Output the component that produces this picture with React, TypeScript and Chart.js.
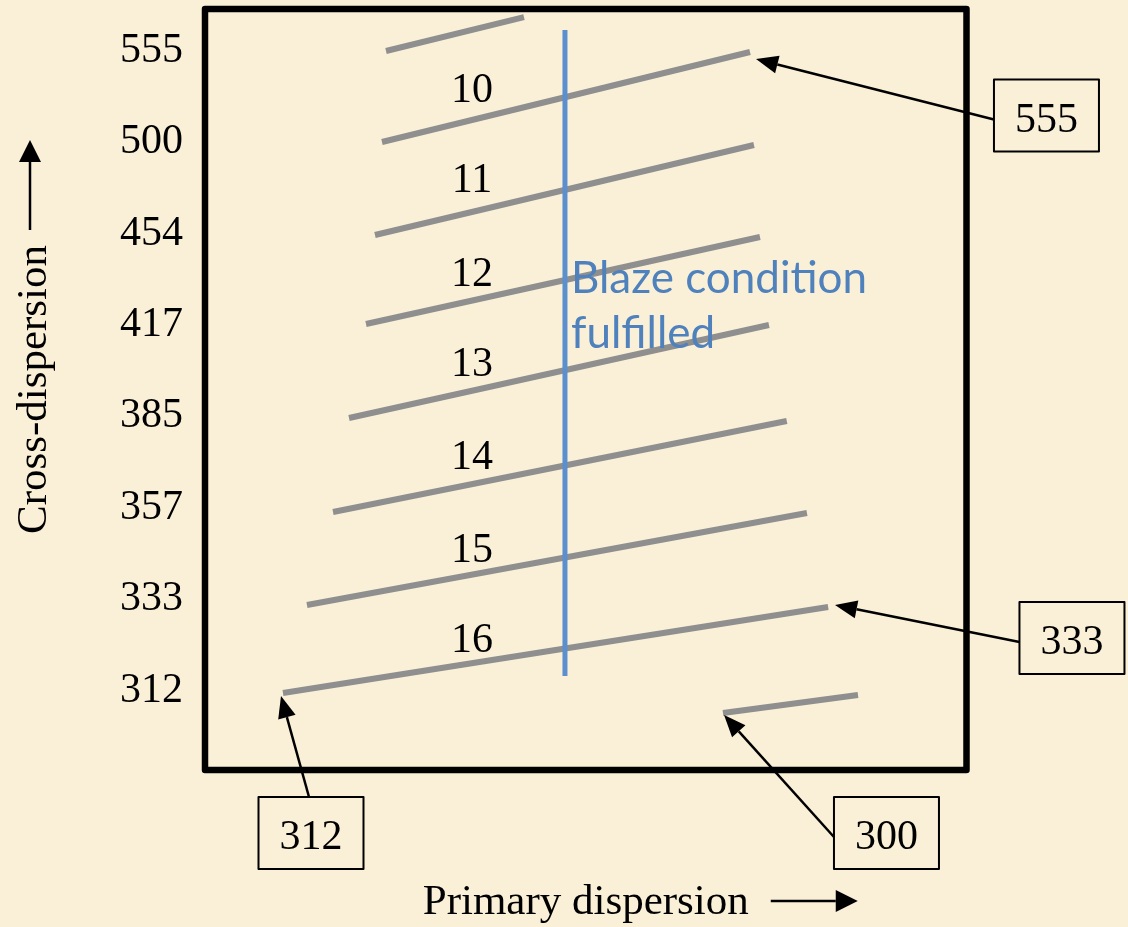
import React, { useEffect, useRef } from "react";
import { Chart, registerables } from "chart.js";

Chart.register(...registerables);

// ---------- data ----------
const crossDispersionTicks = ["312", "333", "357", "385", "417", "454", "500", "555"];

// echelle order segments (primary dispersion x, cross-dispersion row y)
const orderLineStartX = [23.77, 23.24, 22.32, 21.14, 18.91, 16.81, 13.39, 10.24, 68.02];
const orderLineStartY = [7.967, 6.971, 5.953, 4.979, 3.95, 2.921, 1.903, 0.94, 0.721];
const orderLineEndX = [41.89, 71.57, 72.09, 72.88, 74.06, 76.4, 79.05, 81.83, 85.75];
const orderLineEndY = [8.339, 7.956, 6.938, 5.931, 4.968, 3.917, 2.91, 1.881, 0.918];

const orderNumbers = ["10", "11", "12", "13", "14", "15", "16"];
const orderLabelX = [35.06, 35.06, 35.06, 35.06, 35.06, 35.06, 35.06];
const orderLabelY = [7.568, 6.577, 5.548, 4.563, 3.545, 2.529, 1.542];

const blazeLineX = [47.27, 47.27];
const blazeLineY = [1.126, 8.197];
const blazeText = ["Blaze condition", "fulfilled"];
const blazeTextX = [48.06, 48.06];
const blazeTextY = [5.318, 4.716];

const calloutLabels = ["555", "333", "312", "300"];
const calloutX = [110.5, 113.85, 13.92, 89.49];
const calloutY = [7.261, 1.542, -0.593, -0.593];
const calloutTipX = [72.36, 82.73, 9.98, 68.16];
const calloutTipY = [7.879, 1.903, 0.907, 0.699];
const calloutSide = ["left", "left", "top", "left"];

const xAxisTitle = "Primary dispersion";
const yAxisTitle = "Cross-dispersion";

// ---------- styles ----------
const BG = "#faf0d7";
const SERIF = "'Liberation Serif', 'Times New Roman', serif";
const SANS = "Lato, 'Open Sans', sans-serif";
const GRAY = "#8f8f8f";
const BLUE_LINE = "#5b8fcd";
const BLUE_TEXT = "#4f81bd";
const FONT_SIZE = 42;
const TITLE_SIZE = 43;
const DIGIT_NUDGE = 3; // px: canvas "middle" baseline sits above digit ink centre
const TICK_NUDGE = 0.033; // same nudge expressed in row units for axis ticks

function drawArrow(
  ctx: CanvasRenderingContext2D,
  x0: number,
  y0: number,
  x1: number,
  y1: number,
  headLen: number,
  headHalf: number,
  lw: number
) {
  const ang = Math.atan2(y1 - y0, x1 - x0);
  const bx = x1 - headLen * Math.cos(ang);
  const by = y1 - headLen * Math.sin(ang);
  ctx.lineWidth = lw;
  ctx.beginPath();
  ctx.moveTo(x0, y0);
  ctx.lineTo(bx, by);
  ctx.stroke();
  ctx.beginPath();
  ctx.moveTo(x1, y1);
  ctx.lineTo(bx + headHalf * Math.sin(ang), by - headHalf * Math.cos(ang));
  ctx.lineTo(bx - headHalf * Math.sin(ang), by + headHalf * Math.cos(ang));
  ctx.closePath();
  ctx.fill();
}

const decorPlugin = {
  id: "decor",
  beforeDraw(chart: any) {
    const ctx = chart.ctx as CanvasRenderingContext2D;
    ctx.save();
    ctx.fillStyle = BG;
    ctx.fillRect(0, 0, chart.width, chart.height);
    ctx.restore();
  },
  afterDatasetsDraw(chart: any) {
    const ctx = chart.ctx as CanvasRenderingContext2D;
    const xs = chart.scales.x;
    const ys = chart.scales.y;
    const { left, right, top, bottom } = chart.chartArea;
    ctx.save();

    // plot frame
    ctx.strokeStyle = "#000";
    ctx.lineWidth = 6.5;
    ctx.lineJoin = "round";
    ctx.strokeRect(left, top, right - left, bottom - top);

    // order numbers
    ctx.fillStyle = "#000";
    ctx.font = `${FONT_SIZE}px ${SERIF}`;
    ctx.textAlign = "center";
    ctx.textBaseline = "middle";
    orderNumbers.forEach((t, i) => {
      ctx.fillText(
        t,
        xs.getPixelForValue(orderLabelX[i]),
        ys.getPixelForValue(orderLabelY[i]) + DIGIT_NUDGE
      );
    });

    // blaze text
    ctx.fillStyle = BLUE_TEXT;
    ctx.font = `44px ${SANS}`;
    ctx.textAlign = "left";
    ctx.textBaseline = "alphabetic";
    blazeText.forEach((t, i) => {
      ctx.fillText(t, xs.getPixelForValue(blazeTextX[i]), ys.getPixelForValue(blazeTextY[i]));
    });

    // callouts
    const bw = 105;
    const bh = 72;
    ctx.strokeStyle = "#000";
    ctx.fillStyle = "#000";
    calloutLabels.forEach((t, i) => {
      const cx = xs.getPixelForValue(calloutX[i]);
      const cy = ys.getPixelForValue(calloutY[i]);
      ctx.lineWidth = 2;
      ctx.strokeRect(cx - bw / 2, cy - bh / 2, bw, bh);
      ctx.font = `${FONT_SIZE}px ${SERIF}`;
      ctx.textAlign = "center";
      ctx.textBaseline = "middle";
      ctx.fillText(t, cx, cy + 2 + DIGIT_NUDGE);
      let sx = cx - bw / 2;
      let sy = cy + 4;
      if (calloutSide[i] === "top") {
        sx = cx - 2;
        sy = cy - bh / 2;
      }
      drawArrow(
        ctx,
        sx,
        sy,
        xs.getPixelForValue(calloutTipX[i]),
        ys.getPixelForValue(calloutTipY[i]),
        22,
        9,
        2.5
      );
    });

    // axis title arrows
    ctx.font = `${TITLE_SIZE}px ${SERIF}`;
    const wy = ctx.measureText(yAxisTitle).width;
    const wx = ctx.measureText(xAxisTitle).width;
    const midY = (top + bottom) / 2;
    const midX = (left + right) / 2;
    const yStart = midY - wy / 2 - 15;
    drawArrow(ctx, 30, yStart, 30, yStart - 90, 22, 11, 2.5);
    const xStart = midX + wx / 2 + 22;
    drawArrow(ctx, xStart, 901, xStart + 87, 901, 22, 11, 2.5);

    ctx.restore();
  },
};

export default function App() {
  const ref = useRef<HTMLCanvasElement | null>(null);

  useEffect(() => {
    document.body.style.margin = "0";
    document.body.style.background = BG;
    const canvas = ref.current;
    if (!canvas) return;

    const orderDatasets = orderLineStartX.map((_, i) => ({
      label: `order-${i}`,
      data: [
        { x: orderLineStartX[i], y: orderLineStartY[i] },
        { x: orderLineEndX[i], y: orderLineEndY[i] },
      ],
      showLine: true,
      borderColor: GRAY,
      borderWidth: 6,
      borderCapStyle: "butt" as const,
      pointRadius: 0,
      fill: false,
    }));

    const blazeDataset = {
      label: "blaze",
      data: blazeLineX.map((x, i) => ({ x, y: blazeLineY[i] })),
      showLine: true,
      borderColor: BLUE_LINE,
      borderWidth: 5,
      borderCapStyle: "butt" as const,
      pointRadius: 0,
      fill: false,
    };

    const chart = new Chart(canvas, {
      type: "scatter",
      data: { datasets: [blazeDataset, ...orderDatasets] as any },
      plugins: [decorPlugin],
      options: {
        responsive: false,
        animation: false,
        layout: { padding: { left: 0, top: 9, right: 161.5, bottom: 0 } },
        plugins: { legend: { display: false }, tooltip: { enabled: false } },
        scales: {
          x: {
            type: "linear",
            position: "bottom",
            min: 0,
            max: 100,
            grid: { display: false, drawTicks: false },
            border: { display: false },
            ticks: { display: false },
            title: {
              display: true,
              text: xAxisTitle,
              color: "#000",
              font: { family: SERIF, size: TITLE_SIZE },
              padding: { top: 0, bottom: -2 },
            },
            afterFit: (s: any) => {
              s.height = 157;
              s.paddingLeft = 0;
              s.paddingRight = 0;
            },
          },
          y: {
            type: "linear",
            position: "left",
            min: 0.097,
            max: 8.427,
            grid: { display: false, drawTicks: false },
            border: { display: false },
            afterBuildTicks: (s: any) => {
              s.ticks = crossDispersionTicks.map((_, i) => ({ value: i + 1 - TICK_NUDGE }));
            },
            ticks: {
              color: "#000",
              font: { family: SERIF, size: FONT_SIZE },
              padding: 22,
              callback: (v: any) => crossDispersionTicks[Math.round(Number(v)) - 1] ?? "",
            },
            title: {
              display: true,
              text: yAxisTitle,
              color: "#000",
              font: { family: SERIF, size: TITLE_SIZE },
              padding: { top: 9, bottom: 0 },
            },
            afterFit: (s: any) => {
              s.width = 205;
              s.paddingTop = 0;
              s.paddingBottom = 0;
            },
          },
        },
      } as any,
    });

    return () => chart.destroy();
  }, []);

  return (
    <div style={{ position: "absolute", left: 0, top: 0, width: 1128, height: 927, background: BG }}>
      <canvas ref={ref} width={1128} height={927} style={{ display: "block" }} />
    </div>
  );
}
